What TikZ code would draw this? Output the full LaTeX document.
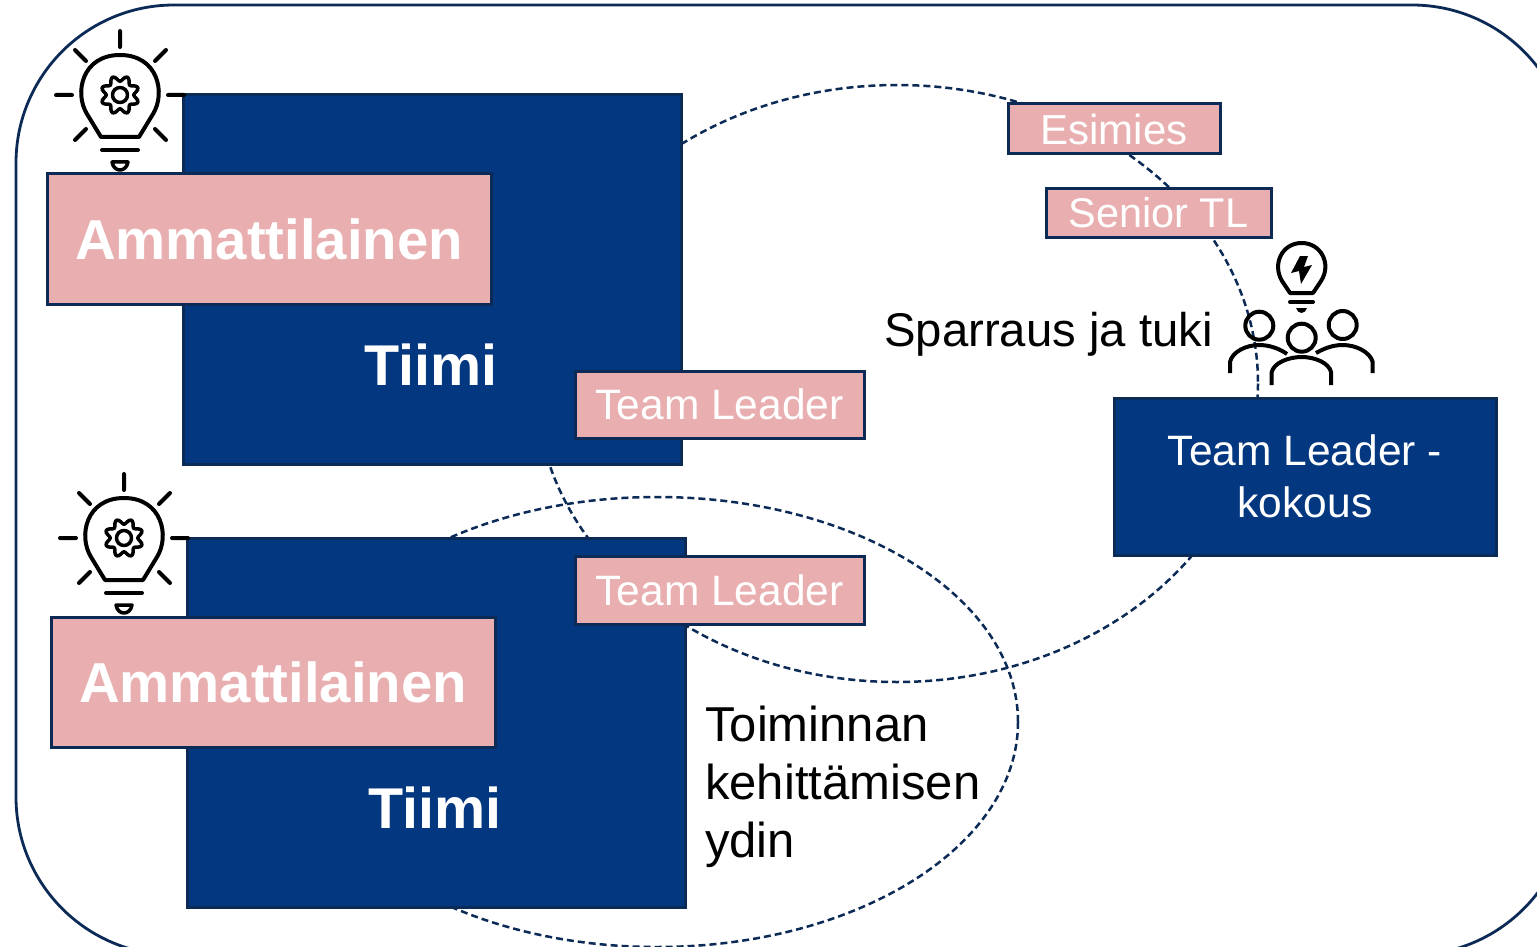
\documentclass[tikz,border=0pt]{standalone}
\usepackage{fontspec}
\setmainfont{Liberation Sans}
\newcommand{\fsz}[1]{\fontsize{#1}{#1}\selectfont}
\definecolor{navy}{HTML}{03377F}
\definecolor{edgeblue}{HTML}{0B2A55}
\definecolor{pinkbox}{HTML}{E9AFB0}
\tikzset{
  dashring/.style={draw=edgeblue,line width=2.5pt,dash pattern=on 7pt off 4pt},
  bluebox/.style={draw=edgeblue,fill=navy,line width=3pt,inner sep=0pt,text=white},
  pinkrect/.style={draw=edgeblue,fill=pinkbox,line width=3pt,inner sep=0pt,text=white},
  icon/.style={line width=4pt,draw=black,line cap=round,line join=round},
  freetext/.style={inner sep=0pt,text=black,align=left},
  gearbulb/.pic={
    \draw[icon] (0,-64)--(0,-48) (-45,-45)--(-34,-34) (46,-45)--(35,-34)
      (-64,0)--(-48,0) (48,0)--(64,0) (-45,45)--(-34,34) (46,45)--(35,34);
    \draw[icon] (-19,42) -- (-33,19) .. controls (-46,-2) and (-38,-40) .. (0,-40)
      .. controls (38,-40) and (46,-2) .. (33,19) -- (19,42) -- cycle;
    \draw[icon] (-18,55)--(18,55);
    \draw[icon,line width=3.5pt] (-8,67) -- (8,67) .. controls (7,73) and (3,75) .. (0,75) .. controls (-3,75) and (-7,73) .. (-8,67) -- cycle;
    \draw[icon,line width=3.5pt] plot[smooth cycle,samples=64,domain=0:354.375] ({(16.5+2.8*cos(8*\x))*cos(\x+22.5)},{(16.5+2.8*cos(8*\x))*sin(\x+22.5)});
    \draw[icon,line width=3.5pt] (0,0) circle (7.5);
  }
}
\begin{document}
\begin{tikzpicture}[x=1pt,y=-1pt]
\useasboundingbox (0,0) rectangle (1537,947);
\clip (0,0) rectangle (1537,947);
\fill[white] (0,0) rectangle (1537,947);
\draw[edgeblue,line width=2.8pt,rounded corners=158pt] (16,5) rectangle (1570,955);
% dashed ellipses
\draw[dashring] (897,383.5) ellipse [x radius=361,y radius=298.5];
\draw[dashring] (657,722) ellipse [x radius=361,y radius=225];
% team boxes
\node[bluebox,minimum width=498pt,minimum height=369pt] (teamA) at (432,279.5) {};
\node[bluebox,minimum width=498pt,minimum height=369pt] (teamB) at (436,722.5) {};
% bulbs over team boxes, under the pink boxes
\pic at (120,95) {gearbulb};
\pic at (124,538) {gearbulb};
\node[pinkrect,minimum width=444pt,minimum height=130pt,font=\fsz{56.3}\bfseries] (proA) at (269,239) {Ammattilainen};
\node[pinkrect,minimum width=444pt,minimum height=130pt,font=\fsz{56.3}\bfseries] (proB) at (273,682) {Ammattilainen};
\node[inner sep=0pt,text=white,font=\fsz{57.5}\bfseries] (tiimiA) at (431,365) {Tiimi};
\node[inner sep=0pt,text=white,font=\fsz{57.5}\bfseries] (tiimiB) at (435,808) {Tiimi};
\node[pinkrect,minimum width=289pt,minimum height=67pt,font=\fsz{42.5}] (tlA) at (719.5,404.5) {Team Leader};
\node[pinkrect,minimum width=289pt,minimum height=68pt,font=\fsz{42.5}] (tlB) at (719.5,590) {Team Leader};
\node[pinkrect,minimum width=212pt,minimum height=50pt,font=\fsz{42}] (boss) at (1114,129) {Esimies};
\node[pinkrect,minimum width=225pt,minimum height=49pt,font=\fsz{41.5}] (senior) at (1158.5,212.5) {Senior TL};
\node[bluebox,minimum width=382pt,minimum height=157pt,font=\fsz{42.5},align=center] (meet) at (1305,476.5) {Team Leader -\\[10pt]kokous};
\node[freetext,anchor=base west,font=\fsz{47.3}] (spar) at (884,346.5) {Sparraus ja tuki};
\node[freetext,anchor=base west,font=\fsz{49}] (dev1) at (705,741) {Toiminnan};
\node[freetext,anchor=base west,font=\fsz{49}] (dev2) at (705,799) {kehittämisen};
\node[freetext,anchor=base west,font=\fsz{49}] (dev3) at (705,857) {ydin};
% idea bulb
\draw[icon] (1290,293) -- (1282,281) .. controls (1272,264) and (1282,243) .. (1301.7,243) .. controls (1321,243) and (1332,264) .. (1321,281) -- (1313,293) -- cycle;
\draw[icon] (1290,302)--(1313,302);
\fill (1296,308) -- (1307,308) .. controls (1306,311) and (1304,313) .. (1301.5,313) .. controls (1299,313) and (1297,311) .. (1296,308) -- cycle;
\fill (1300,256) -- (1291,273) -- (1299,271) -- (1301,284) -- (1312,265) -- (1304,267) -- (1308,256) -- cycle;
% people
\draw[icon,line cap=butt] (1259.3,325.7) circle (14) (1301.7,337.7) circle (14) (1342.7,325) circle (14);
\draw[icon,line cap=butt] (1230,373) -- (1230,362) .. controls (1232,352) and (1246,345) .. (1259,345) .. controls (1270,345) and (1280,349) .. (1287,354);
\draw[icon,line cap=butt] (1271.7,385) -- (1271.7,372) .. controls (1274,363) and (1288,357) .. (1301.7,357) .. controls (1315,357) and (1329,363) .. (1331,372) -- (1331,385);
\draw[icon,line cap=butt] (1316,353) .. controls (1323,349) and (1332,345) .. (1342.7,345) .. controls (1356,345) and (1370,352) .. (1372.7,362) -- (1372.7,373);
\end{tikzpicture}
\end{document}
